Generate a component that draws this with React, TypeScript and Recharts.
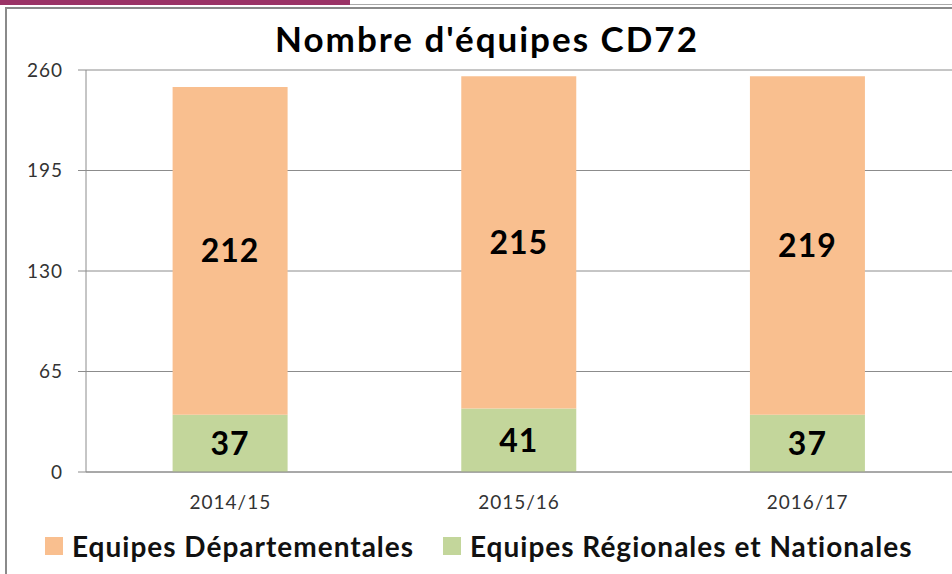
import { Bar, BarChart, CartesianGrid, LabelList, Legend, XAxis, YAxis } from "recharts";

const seasons = ["2014/15", "2015/16", "2016/17"];
const departementales = [212, 215, 219];
const regionales = [37, 41, 37];
const yTicks = [0, 65, 130, 195, 260];

const SERIES = [
  { key: "dep", name: "Equipes Départementales", color: "#F9BF8F", left: 0 },
  { key: "reg", name: "Equipes Régionales et Nationales", color: "#C3D69B", left: 398 },
];

const FONT = "Lato, 'Open Sans', sans-serif";

const data = seasons.map((s, i) => ({
  season: s,
  dep: departementales[i],
  reg: regionales[i],
}));

function LegendBox() {
  return (
    <div style={{ position: "relative", height: 36, fontFamily: FONT }}>
      {SERIES.map((s) => (
        <div
          key={s.key}
          style={{ position: "absolute", left: s.left, top: 0, display: "flex", alignItems: "center" }}
        >
          <span
            style={{ width: 18, height: 18, background: s.color, display: "inline-block", marginRight: 9 }}
          />
          <span style={{ fontSize: 28, fontWeight: 700, color: "#111", letterSpacing: 1 }}>{s.name}</span>
        </div>
      ))}
    </div>
  );
}

export default function App() {
  return (
    <div
      style={{
        position: "absolute",
        left: 0,
        top: 0,
        width: 952,
        height: 574,
        background: "#fff",
        overflow: "hidden",
      }}
    >
      {/* decorative frame like the source slide */}
      <div style={{ position: "absolute", left: 0, top: 0, width: 350, height: 5, background: "#9a3366" }} />
      <div style={{ position: "absolute", left: 350, top: 4, width: 602, height: 1, background: "#aaa" }} />
      <div style={{ position: "absolute", left: 5, top: 7, width: 947, height: 2, background: "#8a8a8a" }} />
      <div style={{ position: "absolute", left: 5, top: 7, width: 2, height: 567, background: "#8a8a8a" }} />
      <div
        style={{
          position: "absolute",
          left: 0,
          width: 974,
          top: 17,
          textAlign: "center",
          fontFamily: FONT,
          fontWeight: 700,
          fontSize: 35,
          letterSpacing: 2,
          color: "#000",
        }}
      >
        Nombre d'équipes CD72
      </div>
      <BarChart
        width={952}
        height={574}
        data={data}
        margin={{ top: 70, right: 0, bottom: 72, left: 0 }}
        barCategoryGap="30%"
        style={{ position: "absolute", left: 0, top: 0 }}
      >
        <CartesianGrid horizontal vertical={false} stroke="#8c8c8c" />
        <XAxis
          dataKey="season"
          height={30}
          tickLine={false}
          tickSize={0}
          tickMargin={24}
          axisLine={{ stroke: "#8c8c8c" }}
          tick={{ fontSize: 19, fill: "#333", fontFamily: FONT, letterSpacing: 1 }}
        />
        <YAxis
          width={86}
          domain={[0, 260]}
          ticks={yTicks}
          interval={0}
          tickSize={8}
          tickMargin={15}
          axisLine={{ stroke: "#8c8c8c" }}
          tickLine={{ stroke: "#8c8c8c" }}
          tick={{ fontSize: 19, fill: "#333", fontFamily: FONT, letterSpacing: 1 }}
        />
        <Legend
          verticalAlign="middle"
          align="center"
          wrapperStyle={{ top: 529, left: 45, width: 900 }}
          content={() => <LegendBox />}
        />
        <Bar dataKey="reg" stackId="a" fill="#C3D69B" isAnimationActive={false}>
          <LabelList
            dataKey="reg"
            position="center"
            fill="#000"
            style={{ fontSize: 32, fontWeight: 700, fontFamily: FONT, letterSpacing: 1 }}
          />
        </Bar>
        <Bar dataKey="dep" stackId="a" fill="#F9BF8F" isAnimationActive={false}>
          <LabelList
            dataKey="dep"
            position="center"
            fill="#000"
            style={{ fontSize: 32, fontWeight: 700, fontFamily: FONT, letterSpacing: 1 }}
          />
        </Bar>
      </BarChart>
    </div>
  );
}
